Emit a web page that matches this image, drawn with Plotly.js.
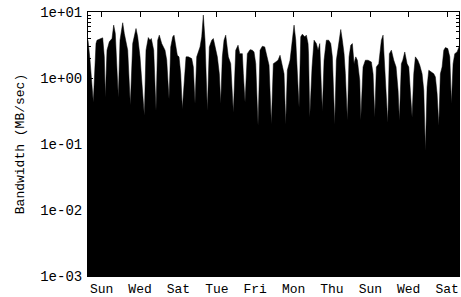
<!DOCTYPE html>
<html>
<head>
<meta charset="utf-8">
<script src="https://cdn.plot.ly/plotly-3.0.1.min.js"></script>
<style>html,body{margin:0;padding:0;background:#fff;}#chart{width:461px;height:297px;}</style>
</head>
<body>
<div id="chart"></div>
<script>
// time in days from start of trace; bandwidth in MB/sec
const days = [-0.07,0.086,0.344,0.555,0.633,0.813,1.079,1.204,1.282,1.415,
1.595,1.806,1.939,2.064,2.197,2.299,2.432,2.643,2.768,2.901,
3.034,3.237,3.425,3.683,3.815,3.995,4.152,4.332,4.464,4.644,
4.777,4.879,5.066,5.246,5.379,5.504,5.692,5.950,6.083,6.263,
6.396,6.552,6.654,6.787,6.912,7.045,7.177,7.303,7.459,7.592,
7.772,8.037,8.163,8.296,8.428,8.686,8.819,8.944,9.077,9.156,
9.257,9.414,9.601,9.726,9.859,10.039,10.195,10.305,10.430,10.563,
10.696,10.899,11.087,11.290,11.478,11.658,11.791,11.994,12.072,12.205,
12.385,12.596,12.776,12.909,13.042,13.221,13.378,13.558,13.745,13.948,
14.081,14.261,14.417,14.605,14.785,14.941,15.121,15.254,15.387,15.512,
15.723,15.903,16.036,16.169,16.294,16.427,16.560,16.685,16.872,16.998,
17.131,17.170,17.264,17.443,17.600,17.780,17.912,18.045,18.170,18.249,
18.382,18.561,18.749,18.905,19.030,19.218,19.343,19.531,19.687,19.812,
19.945,20.047,20.203,20.336,20.469,20.594,20.727,20.860,20.985,21.173,
21.251,21.431,21.611,21.822,22.080,22.213,22.346,22.471,22.659,22.862,
22.995,23.050,23.230,23.362,23.487,23.644,23.831,24.011,24.168,24.269,
24.425,24.535,24.691,24.871,25.004,25.129,25.262,25.395,25.520,25.708,
25.864,26.044,26.177,26.302,26.435,26.568,26.771,26.959,27.084,27.217,
27.350,27.475,27.608,27.741,27.866,28.053,28.210,28.335,28.468,28.601,
28.780,28.93];

const bandwidth = [3.74,1.88,0.43,3.32,3.74,3.88,4.06,2.09,0.51,2.64,
3.53,3.96,6.33,4.72,1.65,0.51,3.74,6.87,4.72,3.32,
2.64,0.39,3.32,5.62,4.20,2.09,0.82,0.27,2.64,4.10,
3.74,3.96,2.64,0.32,3.74,4.46,3.32,2.64,1.88,0.48,
2.96,4.20,4.46,3.32,2.21,2.09,1.16,0.34,1.16,2.09,
2.09,1.97,1.47,0.41,2.09,2.96,4.20,8.99,3.74,1.16,
0.32,2.96,3.74,3.96,2.96,2.09,1.16,0.41,2.09,3.74,
4.46,2.09,1.65,0.30,2.64,3.14,2.34,2.34,1.16,0.43,
2.34,2.69,2.64,2.48,1.65,0.19,2.64,3.03,2.96,2.09,
1.56,0.20,1.65,1.75,1.86,2.21,1.56,1.16,0.20,1.31,
1.86,3.74,6.33,3.74,1.16,0.36,4.20,4.62,4.20,4.46,
3.32,2.32,0.255,1.47,3.74,3.32,2.64,3.32,0.73,0.32,
1.86,3.74,3.74,3.32,2.09,0.20,1.86,3.74,5.43,3.74,
2.34,1.16,0.23,2.09,3.14,3.32,1.65,2.09,1.86,0.92,
0.23,1.47,1.86,1.86,1.75,1.16,0.255,1.47,1.65,3.74,
4.46,2.64,0.65,0.21,2.34,2.64,1.86,1.47,0.65,0.23,
1.65,1.86,2.48,1.65,1.47,0.65,0.255,1.16,2.09,1.86,
1.56,1.16,0.65,0.079,0.73,1.31,1.23,1.16,1.04,0.58,
0.19,1.16,1.47,2.64,2.89,2.79,2.09,0.41,1.65,2.34,
2.48,2.96];

const dayTickVals = [1,4,7,10,13,16,19,22,25,28];
const dayTickText = ['Sun','Wed','Sat','Tue','Fri','Mon','Thu','Sun','Wed','Sat'];
const yTickVals = [0.001,0.01,0.1,1,10];
const yTickText = ['1e-03','1e-02','1e-01','1e+00','1e+01'];

const minorVals = [];
for (let e = -3; e < 1; e++) for (let m = 2; m <= 9; m++) minorVals.push(m * Math.pow(10, e));

const fam = '"Liberation Mono", "Courier New", monospace';
const font = {family: fam, size: 14, color: '#000'};

Plotly.newPlot('chart', [{
  x: days, y: bandwidth, type: 'scatter', mode: 'lines',
  fill: 'tozeroy', fillcolor: '#000',
  line: {color: '#000', width: 0.5}, hoverinfo: 'skip'
}], {
  width: 461, height: 297,
  margin: {l: 88, r: 2, t: 12, b: 21, pad: 0},
  paper_bgcolor: '#fff', plot_bgcolor: '#fff',
  font: font, showlegend: false,
  xaxis: {
    range: [-0.07, 28.93], tickmode: 'array', tickvals: dayTickVals, ticktext: dayTickText,
    ticks: 'inside', ticklen: 5, tickcolor: '#000', showgrid: false, zeroline: false,
    showline: true, linecolor: '#000', linewidth: 1, mirror: 'allticks',
    tickfont: {family: fam, size: 13, color: '#000'}, ticklabelstandoff: 0
  },
  yaxis: {
    type: 'log', range: [-3, 1], tickmode: 'array', tickvals: yTickVals, ticktext: yTickText,
    ticks: 'inside', ticklen: 5, tickcolor: '#000', showgrid: false, zeroline: false,
    showline: true, linecolor: '#000', linewidth: 1, mirror: 'allticks', tickfont: font,
    ticklabelstandoff: 2,
    minor: {tickmode: 'array', tickvals: minorVals, ticks: 'inside', ticklen: 3, tickcolor: '#000', showgrid: false},
    title: {text: 'Bandwidth (MB/sec)', font: {family: fam, size: 13, color: '#000'}, standoff: 12}
  }
}, {displayModeBar: false, staticPlot: true});
</script>
</body>
</html>
